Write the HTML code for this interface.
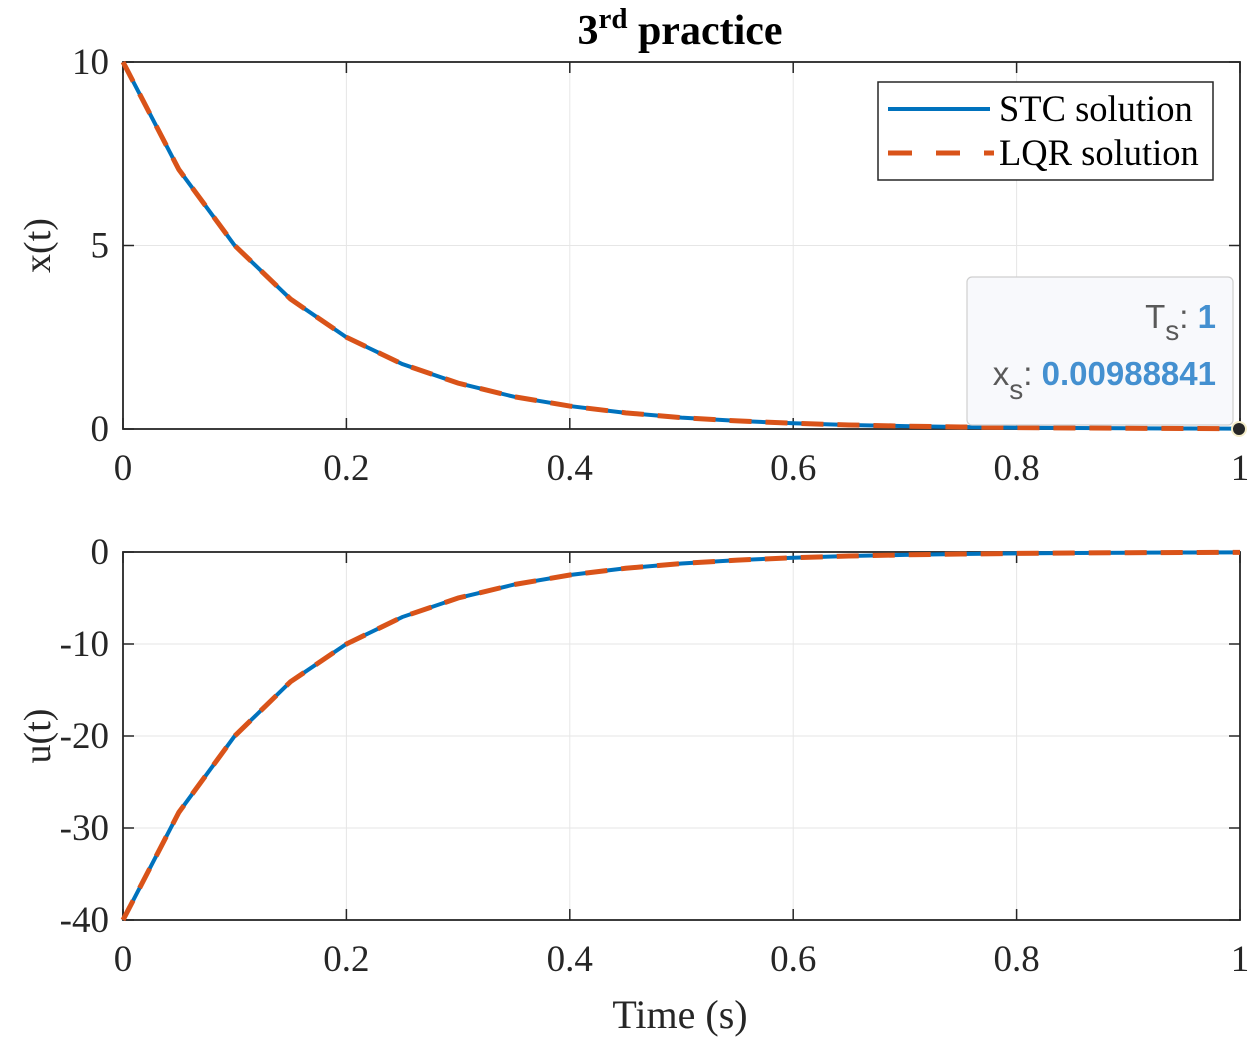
<!DOCTYPE html>
<html><head><meta charset="utf-8"><style>
body{margin:0;background:#fff}
svg{display:block}
text{font-family:"Liberation Serif",serif;fill:#262626}
</style></head><body>
<svg id="chart" width="1251" height="1038" xmlns="http://www.w3.org/2000/svg">
<g id="plots"></g>
<text x="680" y="44" text-anchor="middle" font-size="42" font-weight="bold" style="fill:#000">3<tspan dy="-16" font-size="29">rd</tspan><tspan dy="16"> practice</tspan></text>
<text x="680" y="1028" text-anchor="middle" font-size="40">Time (s)</text>
<g>
<rect x="878" y="82" width="335" height="98" fill="#fff" stroke="#262626" stroke-width="1.5"/>
<line x1="888" y1="109" x2="990" y2="109" stroke="#0072BD" stroke-width="4"/>
<text x="999" y="121" font-size="36.5" style="fill:#000">STC solution</text>
<line x1="888" y1="153" x2="994" y2="153" stroke="#D95319" stroke-width="5" stroke-dasharray="24,24"/>
<text x="999" y="165" font-size="36.5" style="fill:#000">LQR solution</text>
</g>
<g>
<rect x="967" y="277" width="266" height="148" rx="5" fill="#f8f9fc" stroke="#cfcfcf" stroke-width="1.2"/>
<text x="1216" y="328" text-anchor="end" font-size="33" style="font-family:'Liberation Sans',sans-serif;fill:#595959">T<tspan dy="12" font-size="28">s</tspan><tspan dy="-12">: </tspan><tspan font-weight="bold" style="fill:#4490d0">1</tspan></text>
<text x="1216" y="385" text-anchor="end" font-size="33" style="font-family:'Liberation Sans',sans-serif;fill:#595959">x<tspan dy="14" font-size="28">s</tspan><tspan dy="-14">: </tspan><tspan font-weight="bold" style="fill:#4490d0">0.00988841</tspan></text>
<circle cx="1239" cy="429" r="7" fill="#262626" stroke="#f3ecc8" stroke-width="2"/>
</g>
</svg>
<script>
const times=[0,0.05,0.1,0.15,0.2,0.25,0.3,0.35,0.4,0.45,0.5,0.55,0.6,0.65,0.7,0.75,0.8,0.85,0.9,0.95,1];
const xStc=[10,7.07,5.0,3.54,2.5,1.77,1.25,0.88,0.625,0.44,0.31,0.22,0.156,0.11,0.078,0.055,0.039,0.028,0.02,0.014,0.0099];
const xLqr=[10,7.07,5.0,3.54,2.5,1.77,1.25,0.88,0.625,0.44,0.31,0.22,0.156,0.11,0.078,0.055,0.039,0.028,0.02,0.014,0.0099];
const uStc=[-40,-28.3,-20,-14.1,-10,-7.07,-5,-3.54,-2.5,-1.77,-1.25,-0.88,-0.625,-0.44,-0.31,-0.22,-0.156,-0.11,-0.078,-0.055,-0.04];
const uLqr=[-40,-28.3,-20,-14.1,-10,-7.07,-5,-3.54,-2.5,-1.77,-1.25,-0.88,-0.625,-0.44,-0.31,-0.22,-0.156,-0.11,-0.078,-0.055,-0.04];
const xTicks=[0,0.2,0.4,0.6,0.8,1];
const xTickLabels=["0","0.2","0.4","0.6","0.8","1"];
const topYTicks=[0,5,10];
const botYTicks=[-40,-30,-20,-10,0];
const svg=document.getElementById('plots');
const NS='http://www.w3.org/2000/svg';
function mk(tag,attrs,parent){const e=document.createElementNS(NS,tag);for(const k in attrs)e.setAttribute(k,attrs[k]);(parent||svg).appendChild(e);return e;}
const X0=123,X1=1240;
const sx=t=>X0+(X1-X0)*t;
function axes(name,y0px,y1px,ymin,ymax,yt,xs,ys1,ys2,ylabel){
  const sy=v=>y0px+(y1px-y0px)*(v-ymin)/(ymax-ymin);
  const g=mk('g',{});
  
  
  xTicks.forEach((t,i)=>{
    const l=mk('line',{x1:sx(t),x2:sx(t),y1:y1px,y2:y0px,stroke:'#e6e6e6','stroke-width':1},g);
    
    
    mk('line',{x1:sx(t),x2:sx(t),y1:y0px,y2:y0px-11,stroke:'#262626','stroke-width':1.5},g);
    mk('line',{x1:sx(t),x2:sx(t),y1:y1px,y2:y1px+11,stroke:'#262626','stroke-width':1.5},g);
    const tx=mk('text',{x:sx(t),y:y0px+51,'text-anchor':'middle','font-size':37},g);
    tx.textContent=xTickLabels[i];
    
    
  });
  yt.forEach(v=>{
    if(v!==ymin&&v!==ymax) mk('line',{x1:X0,x2:X1,y1:sy(v),y2:sy(v),stroke:'#e6e6e6','stroke-width':1},g);
    mk('line',{x1:X0,x2:X0+11,y1:sy(v),y2:sy(v),stroke:'#262626','stroke-width':1.5},g);
    mk('line',{x1:X1,x2:X1-11,y1:sy(v),y2:sy(v),stroke:'#262626','stroke-width':1.5},g);
    const tx=mk('text',{x:X0-14,y:sy(v)+12,'text-anchor':'end','font-size':37},g);
    tx.textContent=String(v);
    
    
  });
  const box=mk('rect',{x:X0,y:y1px,width:X1-X0,height:y0px-y1px,fill:'none',stroke:'#262626','stroke-width':1.8},g);
  
  
  const p1=mk('polyline',{points:xs.map((t,i)=>sx(t)+','+sy(ys1[i])).join(' '),fill:'none',stroke:'#0072BD','stroke-width':4},g);
  
  
  const p2=mk('polyline',{points:xs.map((t,i)=>sx(t)+','+sy(ys2[i])).join(' '),fill:'none',stroke:'#D95319','stroke-width':5,'stroke-dasharray':'22,14'},g);
  
  
  const cy=(y0px+y1px)/2;
  const yl=mk('text',{x:0,y:0,'text-anchor':'middle','font-size':38,transform:`translate(50,${cy}) rotate(-90)`},g);
  yl.textContent=ylabel;
  
  
  return sy;
}
axes('x-axes',429,62,0,10,topYTicks,times,xStc,xLqr,'x(t)');
axes('u-axes',920,552,-40,0,botYTicks,times,uStc,uLqr,'u(t)');
</script>
</body></html>
